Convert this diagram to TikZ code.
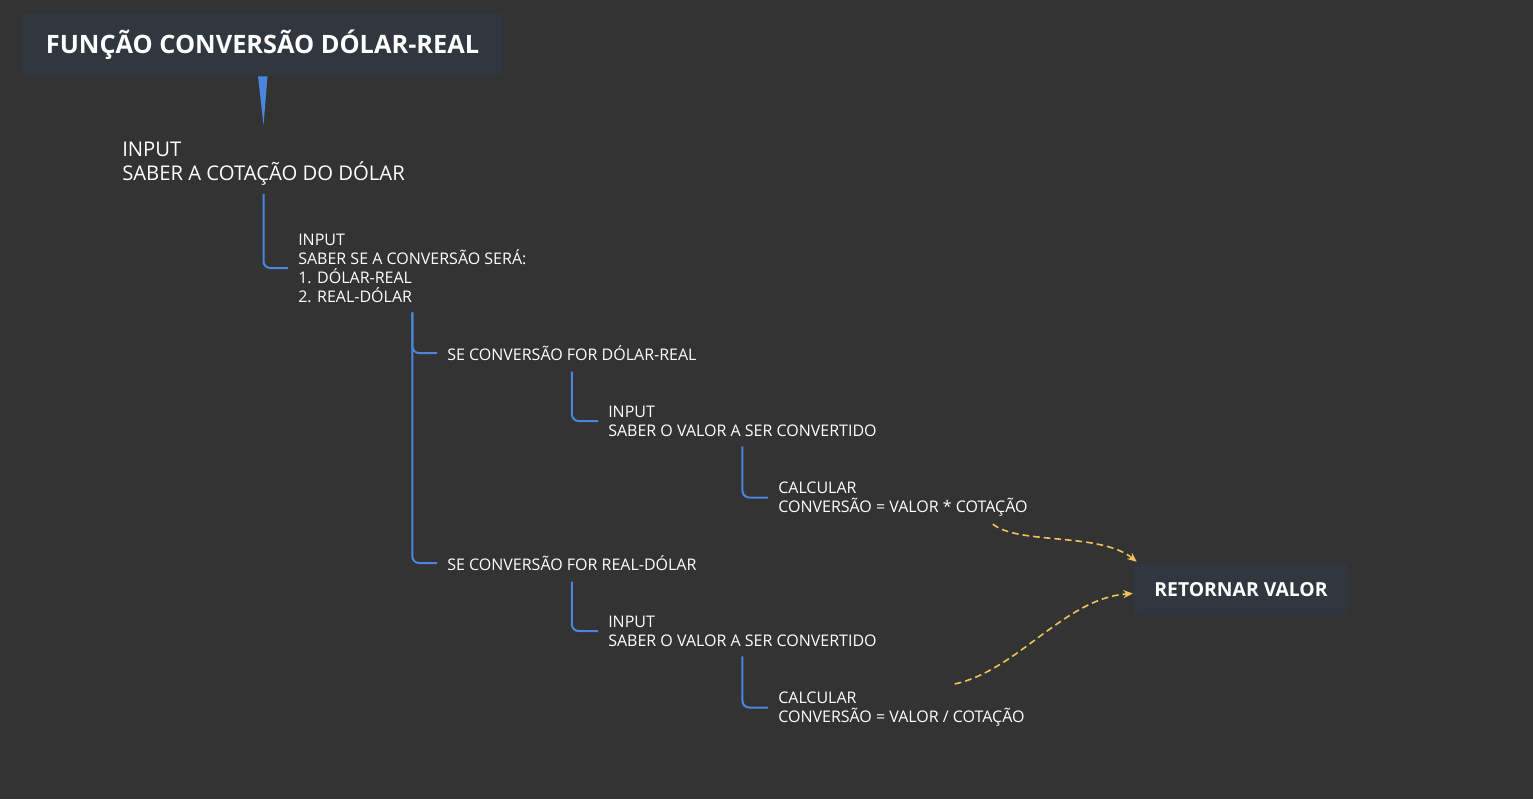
\documentclass[tikz,border=0pt]{standalone}
\usepackage{fontspec}
\setmainfont{Open Sans}
\usetikzlibrary{arrows.meta, calc}

\definecolor{bgcol}{RGB}{51,51,51}
\definecolor{boxcol}{RGB}{48,55,63}
\definecolor{mainblue}{RGB}{74,134,222}
\definecolor{linkyellow}{RGB}{240,194,90}

\begin{document}
\begin{tikzpicture}[x=0.75pt, y=-0.75pt,
    every node/.style={text=white, inner sep=0pt, align=left},
    topic/.style={fill=boxcol, rounded corners=3pt, align=center, font=\fontsize{19}{23}\selectfont\bfseries},
    bigtext/.style={anchor=west, font=\fontsize{15.2}{18}\selectfont},
    smalltext/.style={anchor=west, text depth=0pt, font=\fontsize{12}{14.25}\selectfont},
    branch/.style={draw=mainblue, line width=1.5pt, rounded corners=5pt},
    link/.style={draw=linkyellow, line width=1.2pt, dash pattern=on 5pt off 3pt, -{Stealth[length=7pt,width=6pt]}}]
        \fill[bgcol] (0,0) rectangle (1533,799);
        \useasboundingbox (0,0) rectangle (1533,799);

        % main topic
        \node[topic, minimum width=360.75pt, minimum height=46.5pt] (title) at (262.5,45) {FUNÇÃO CONVERSÃO DÓLAR-REAL};

        \node[bigtext] (in1) at (122,164) {INPUT\\SABER A COTAÇÃO DO DÓLAR};
        \node[smalltext] (in2) at (298,268) {INPUT\\SABER SE A CONVERSÃO SERÁ:\\1. DÓLAR-REAL\\2. REAL-DÓLAR};

        \node[smalltext] (se1) at (447,353) {SE CONVERSÃO FOR DÓLAR-REAL};
        \node[smalltext] (in3) at (608,421) {INPUT\\SABER O VALOR A SER CONVERTIDO};
        \node[smalltext] (calc1) at (778,497.5) {CALCULAR\\CONVERSÃO = VALOR * COTAÇÃO};

        \node[smalltext] (se2) at (447,563) {SE CONVERSÃO FOR REAL-DÓLAR};
        \node[smalltext] (in4) at (608,631) {INPUT\\SABER O VALOR A SER CONVERTIDO};
        \node[smalltext] (calc2) at (778,707.5) {CALCULAR\\CONVERSÃO = VALOR / COTAÇÃO};

        \node[topic, font=\fontsize{14.5}{18}\selectfont\bfseries, minimum width=160.5pt, minimum height=38.25pt] (ret) at (1241,589.5) {RETORNAR VALOR};

        % tapered link from the main topic
        \fill[mainblue] ($(title.south)+(-4.5,0)$) -- ($(title.south)+(5,0)$) -- ($(in1.north)+(0,-17)$) -- cycle;

        % tree branches
        \draw[branch] ($(in1.south)+(0,8)$) |- ($(in2.west)+(-10,0)$);
        \draw[branch] ($(in2.south)+(0,10)$) |- ($(se1.west)+(-10,0)$);
        \draw[branch] ($(in2.south)+(0,10)$) |- ($(se2.west)+(-10,0)$);
        \draw[branch] ($(se1.south)+(0,11)$) |- ($(in3.west)+(-10,0)$);
        \draw[branch] ($(in3.south)+(0,10)$) |- ($(calc1.west)+(-10,0)$);
        \draw[branch] ($(se2.south)+(0,11)$) |- ($(in4.west)+(-10,0)$);
        \draw[branch] ($(in4.south)+(0,10)$) |- ($(calc2.west)+(-10,0)$);

        % links to the return
        \draw[link] ($(calc1.south east)+(-35,11)$) .. controls (1018,545) and (1100,532) .. ($(ret.north west)+(3,-2)$);
        \draw[link] ($(calc2.north east)+(-70,-8)$) .. controls (1018,670) and (1065,598) .. ($(ret.west)+(-1,4)$);
    \end{tikzpicture}
\end{document}
